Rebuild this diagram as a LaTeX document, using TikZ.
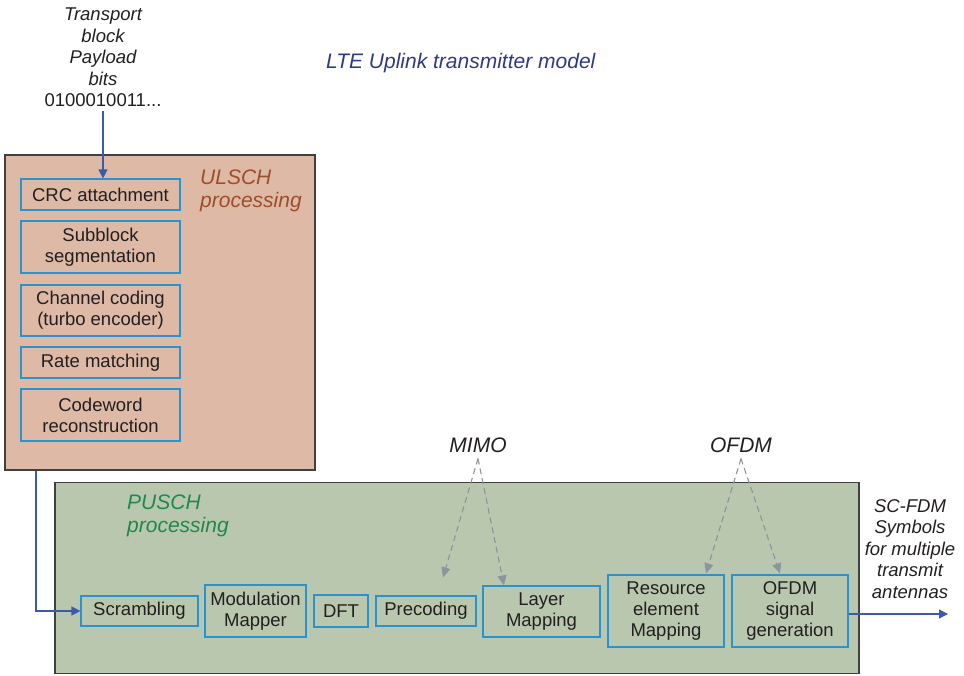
\documentclass[tikz,border=0pt]{standalone}
\usepackage{fontspec}
\setmainfont{Liberation Sans}
\usetikzlibrary{arrows.meta}
\definecolor{txt}{HTML}{231F20}
\definecolor{boxblue}{HTML}{2A93CC}
\definecolor{arrblue}{HTML}{3A5BA9}
\definecolor{dgray}{HTML}{8C949C}
\definecolor{ulfill}{HTML}{DDB9A6}
\definecolor{pufill}{HTML}{B9C7AE}
\definecolor{ulcol}{HTML}{9C4E2C}
\definecolor{pucol}{HTML}{1E8A4A}
\definecolor{titcol}{HTML}{2E3A87}
\tikzset{
  blk/.style={draw=boxblue, line width=1.2pt, align=center, inner sep=0pt, text=txt,
    font=\fontsize{18.5}{21}\selectfont},
  region/.style={draw=black!75, line width=1.3pt, inner sep=0pt},
  lbl/.style={align=center, inner sep=0pt, text=txt, font=\fontsize{18.5}{21.5}\selectfont},
  biglbl/.style={align=left, inner sep=0pt, font=\fontsize{21}{23}\selectfont\itshape},
  barrow/.style={draw=arrblue, line width=1.2pt, -{Triangle[length=9pt,width=9pt]}},
  garrow/.style={draw=dgray, line width=1.1pt, dash pattern=on 6pt off 4pt, -{Triangle[length=10pt,width=9pt]}}
}
\begin{document}
\begin{tikzpicture}[x=1pt,y=-1pt]
\useasboundingbox (0,0) rectangle (964,675);
% regions
\node[region, fill=ulfill, minimum width=310pt, minimum height=315pt] (ulsch) at (160,312.5) {};
\node[region, fill=pufill, minimum width=804pt, minimum height=191pt] (pusch) at (457,578) {};
% title and labels
\node[biglbl, text=titcol, anchor=west] (title) at (326,63) {LTE Uplink transmitter model};
\node[biglbl, text=ulcol, anchor=north west] (ultxt) at (200,170) {ULSCH\\processing};
\node[biglbl, text=pucol, anchor=north west] (putxt) at (127,495) {PUSCH\\processing};
\node[lbl, anchor=north] (tb) at (103,8) {\itshape Transport\\\itshape block\\\itshape Payload\\\itshape bits\\0100010011...};
\node[biglbl, text=txt, align=center] (mimo) at (478,445) {MIMO};
\node[biglbl, text=txt, align=center] (ofdm) at (741,445) {OFDM};
\node[lbl, font=\fontsize{18.5}{21.5}\selectfont\itshape] (scfdm) at (910,549) {SC-FDM\\Symbols\\for multiple\\transmit\\antennas};
% ULSCH blocks
\node[blk, minimum width=159pt, minimum height=31pt] (crc) at (100.5,194.5) {CRC attachment};
\node[blk, minimum width=159pt, minimum height=52pt] (sub) at (100.5,247) {Subblock\\segmentation};
\node[blk, minimum width=159pt, minimum height=51pt] (cc) at (100.5,310.5) {Channel coding\\(turbo encoder)};
\node[blk, minimum width=159pt, minimum height=31pt] (rm) at (100.5,362.5) {Rate matching};
\node[blk, minimum width=159pt, minimum height=52pt] (cw) at (100.5,415) {Codeword\\reconstruction};
% PUSCH blocks
\node[blk, minimum width=117pt, minimum height=30pt] (scr) at (139.5,611) {Scrambling};
\node[blk, minimum width=101pt, minimum height=52pt] (mod) at (255.5,611) {Modulation\\Mapper};
\node[blk, minimum width=54pt, minimum height=32pt] (dft) at (341,611) {DFT};
\node[blk, minimum width=100pt, minimum height=30pt] (prec) at (426,611) {Precoding};
\node[blk, minimum width=117pt, minimum height=51pt] (lay) at (541.5,611.5) {Layer\\Mapping};
\node[blk, minimum width=116pt, minimum height=72pt] (res) at (666,611) {Resource\\element\\Mapping};
\node[blk, minimum width=116pt, minimum height=72pt] (gen) at (790,611) {OFDM\\signal\\generation};
% connectors
\draw[barrow] ([yshift=-4pt]tb.south) -- (tb.south |- crc.north);
\draw[barrow] ([xshift=-124pt]ulsch.south) |- (scr.west);
\coordinate (out) at (948,614);
\draw[barrow] (gen.east |- out) -- (out);
\draw[garrow] ([yshift=-6pt]mimo.south) -- ([xshift=17pt,yshift=18pt]prec.north);
\draw[garrow] ([yshift=-6pt]mimo.south) -- ([xshift=-37.5pt]lay.north);
\draw[garrow] ([yshift=-6pt]ofdm.south) -- ([xshift=40pt,yshift=1pt]res.north);
\draw[garrow] ([yshift=-6pt]ofdm.south) -- ([xshift=-10pt,yshift=1pt]gen.north);
\end{tikzpicture}
\end{document}
